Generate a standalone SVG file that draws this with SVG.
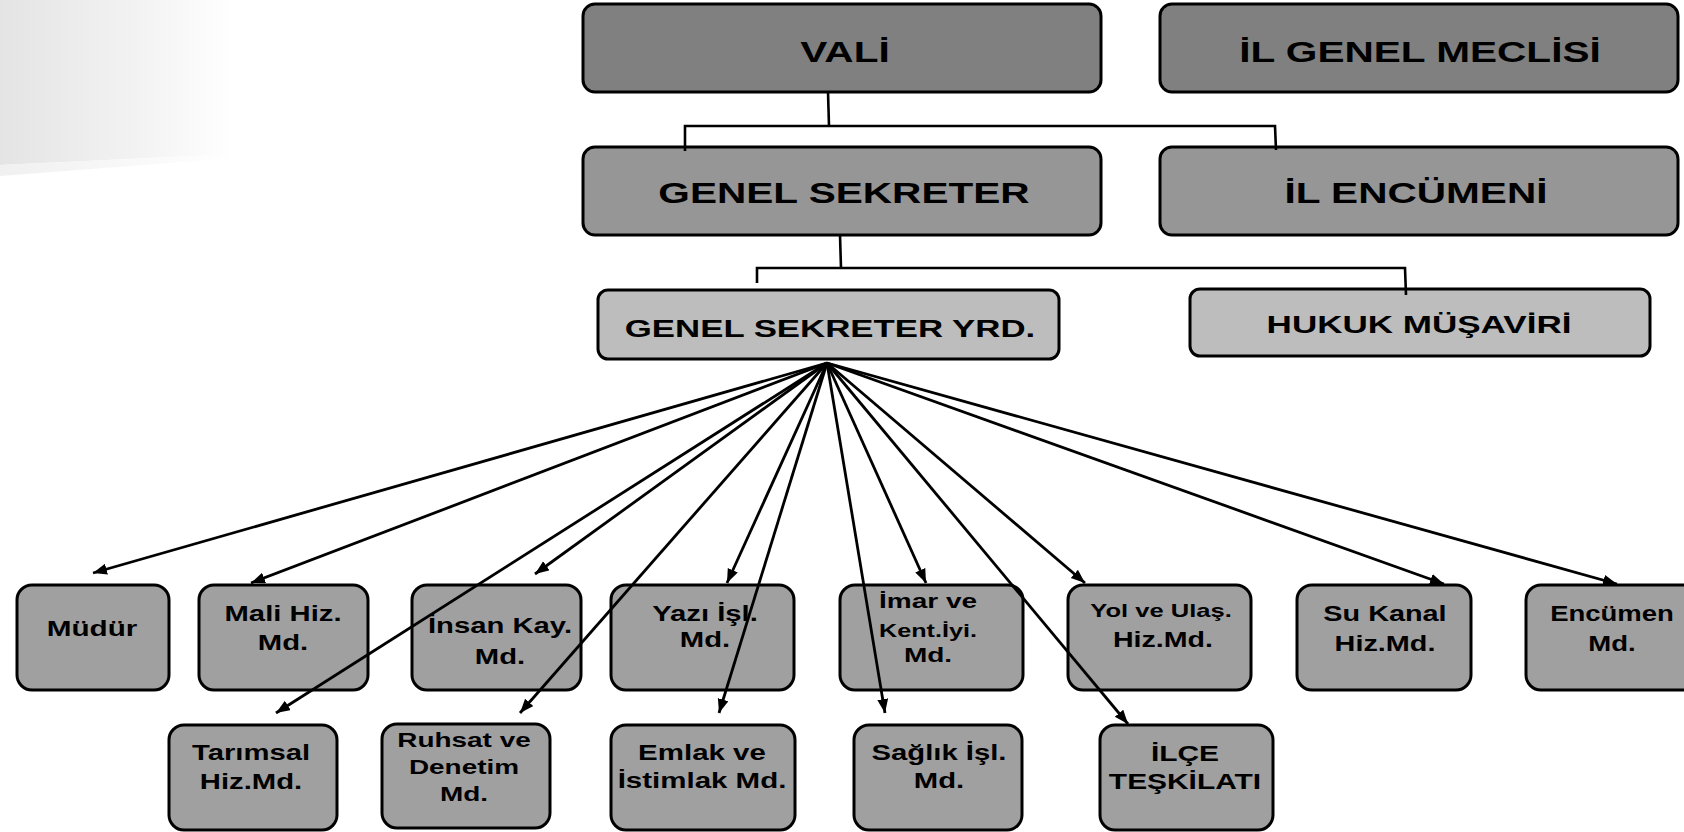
<svg xmlns="http://www.w3.org/2000/svg" width="1684" height="832" viewBox="0 0 1684 832">
<defs>
<linearGradient id="bg" x1="0" y1="0" x2="1" y2="0">
<stop offset="0" stop-color="#e4e4e4"/>
<stop offset="0.6" stop-color="#f3f3f3"/>
<stop offset="1" stop-color="#ffffff"/>
</linearGradient>
<linearGradient id="bg2" x1="0" y1="0" x2="1" y2="0">
<stop offset="0" stop-color="#f0f0f0"/>
<stop offset="1" stop-color="#ffffff"/>
</linearGradient>
<marker id="ah" markerUnits="userSpaceOnUse" markerWidth="16" markerHeight="12" refX="14" refY="5.5" orient="auto">
<path d="M0,0 L14,5.5 L0,11 z" fill="#000"/>
</marker>
</defs>
<style>
.n1{fill:#808080;stroke:#000;stroke-width:3}
.n2{fill:#969696;stroke:#000;stroke-width:3}
.n3{fill:#bdbdbd;stroke:#000;stroke-width:3}
.n4{fill:#a0a0a0;stroke:#000;stroke-width:3}
.t{font-family:"Liberation Sans",Arial,sans-serif;font-weight:bold;fill:#000;text-anchor:middle}
.tl{font-size:29px}
.tm{font-size:24px}
.ts{font-size:22px}
.conn line,.conn polyline{stroke:#000;stroke-width:2.6;fill:none}
.fan line{stroke-width:2.8;marker-end:url(#ah)}
</style>
<rect width="1684" height="832" fill="#fff"/>
<polygon points="0,0 235,0 235,154 0,165" fill="url(#bg)"/>
<polygon points="0,165 235,154 235,158 0,176" fill="url(#bg2)"/>

<g id="vali"><rect class="n1" x="583" y="4" width="518" height="88" rx="12"/>
<text class="t tl" transform="translate(845 0) scale(1.4 1)" y="62">VALİ</text></g>
<g id="il-genel-meclisi"><rect class="n1" x="1160" y="4" width="518" height="88" rx="12"/>
<text class="t tl" transform="translate(1420 0) scale(1.4 1)" y="62">İL GENEL MECLİSİ</text></g>
<g id="genel-sekreter"><rect class="n2" x="583" y="147" width="518" height="88" rx="12"/>
<text class="t tl" transform="translate(844 0) scale(1.4 1)" y="203">GENEL SEKRETER</text></g>
<g id="il-encumeni"><rect class="n2" x="1160" y="147" width="518" height="88" rx="12"/>
<text class="t tl" transform="translate(1416 0) scale(1.4 1)" y="203">İL ENCÜMENİ</text></g>
<g id="gs-yrd"><rect class="n3" x="598" y="290" width="461" height="69" rx="10"/>
<text class="t tm" transform="translate(830 0) scale(1.45 1)" y="337">GENEL SEKRETER YRD.</text></g>
<g id="hukuk"><rect class="n3" x="1190" y="289" width="460" height="67" rx="10"/>
<text class="t tm" transform="translate(1419 0) scale(1.46 1)" y="333">HUKUK MÜŞAVİRİ</text></g>

<g id="mudur"><rect class="n4" x="17" y="585" width="152" height="105" rx="15"/>
<text class="t ts" transform="translate(92 0) scale(1.35 1)" y="636">Müdür</text></g>
<g id="mali"><rect class="n4" x="199" y="585" width="169" height="105" rx="15"/>
<text class="t ts" transform="translate(283 0) scale(1.33 1)"><tspan x="0" y="621">Mali Hiz.</tspan><tspan x="0" y="650">Md.</tspan></text></g>
<g id="insan"><rect class="n4" x="412" y="585" width="169" height="105" rx="15"/>
<text class="t ts" transform="translate(500 0) scale(1.33 1)"><tspan x="0" y="633">İnsan Kay.</tspan><tspan x="0" y="664">Md.</tspan></text></g>
<g id="yazi"><rect class="n4" x="611" y="585" width="183" height="105" rx="15"/>
<text class="t ts" transform="translate(705 0) scale(1.33 1)"><tspan x="0" y="621">Yazı İşl.</tspan><tspan x="0" y="647">Md.</tspan></text></g>
<g id="imar"><rect class="n4" x="840" y="585" width="183" height="105" rx="15"/>
<text class="t" transform="translate(928 0) scale(1.4 1)"><tspan x="0" y="608" font-size="20">İmar ve</tspan><tspan x="0" y="637" font-size="18">Kent.İyi.</tspan><tspan x="0" y="662" font-size="20">Md.</tspan></text></g>
<g id="yol"><rect class="n4" x="1068" y="585" width="183" height="105" rx="15"/>
<text class="t" transform="translate(1161 0) scale(1.42 1)"><tspan x="0" y="617" font-size="18">Yol ve Ulaş.</tspan></text>
<text class="t ts" transform="translate(1163 0) scale(1.3 1)" y="647">Hiz.Md.</text></g>
<g id="su"><rect class="n4" x="1297" y="585" width="174" height="105" rx="15"/>
<text class="t ts" transform="translate(1385 0) scale(1.31 1)"><tspan x="0" y="621">Su Kanal</tspan><tspan x="0" y="651">Hiz.Md.</tspan></text></g>
<g id="encumen"><rect class="n4" x="1526" y="585" width="176" height="105" rx="15"/>
<text class="t ts" transform="translate(1612 0) scale(1.25 1)"><tspan x="0" y="621">Encümen</tspan><tspan x="0" y="651">Md.</tspan></text></g>

<g id="tarimsal"><rect class="n4" x="169" y="725" width="168" height="105" rx="15"/>
<text class="t ts" transform="translate(251 0) scale(1.33 1)"><tspan x="0" y="760">Tarımsal</tspan><tspan x="0" y="789">Hiz.Md.</tspan></text></g>
<g id="ruhsat"><rect class="n4" x="382" y="724" width="168" height="104" rx="15"/>
<text class="t" font-size="21" transform="translate(464 0) scale(1.33 1)"><tspan x="0" y="747">Ruhsat ve</tspan><tspan x="0" y="774">Denetim</tspan><tspan x="0" y="801">Md.</tspan></text></g>
<g id="emlak"><rect class="n4" x="611" y="725" width="184" height="105" rx="15"/>
<text class="t ts" transform="translate(702 0) scale(1.34 1)"><tspan x="0" y="760">Emlak ve</tspan><tspan x="0" y="788">İstimlak Md.</tspan></text></g>
<g id="saglik"><rect class="n4" x="854" y="725" width="168" height="105" rx="15"/>
<text class="t ts" transform="translate(939 0) scale(1.33 1)"><tspan x="0" y="760">Sağlık İşl.</tspan><tspan x="0" y="788">Md.</tspan></text></g>
<g id="ilce"><rect class="n4" x="1100" y="725" width="173" height="105" rx="15"/>
<text class="t ts" transform="translate(1185 0) scale(1.36 1)"><tspan x="0" y="761">İLÇE</tspan><tspan x="0" y="789">TEŞKİLATI</tspan></text></g>

<g class="conn" id="connectors">
<line x1="828" y1="92" x2="829" y2="126"/>
<polyline points="685,151 685,126 1275,126 1276,150"/>
<line x1="840" y1="235" x2="841" y2="268"/>
<polyline points="757,283 757,268 1405,268 1406,295"/>
<g class="fan">
<line x1="827" y1="363" x2="93" y2="573"/>
<line x1="827" y1="363" x2="251" y2="583"/>
<line x1="827" y1="363" x2="535" y2="574"/>
<line x1="827" y1="363" x2="276" y2="713"/>
<line x1="827" y1="363" x2="520" y2="713"/>
<line x1="827" y1="363" x2="727" y2="583"/>
<line x1="827" y1="363" x2="719" y2="713"/>
<line x1="827" y1="363" x2="885" y2="713"/>
<line x1="827" y1="363" x2="926" y2="583"/>
<line x1="827" y1="363" x2="1085" y2="583"/>
<line x1="827" y1="363" x2="1128" y2="724"/>
<line x1="827" y1="363" x2="1444" y2="584"/>
<line x1="827" y1="363" x2="1617" y2="584"/>
</g>
</g>
</svg>
